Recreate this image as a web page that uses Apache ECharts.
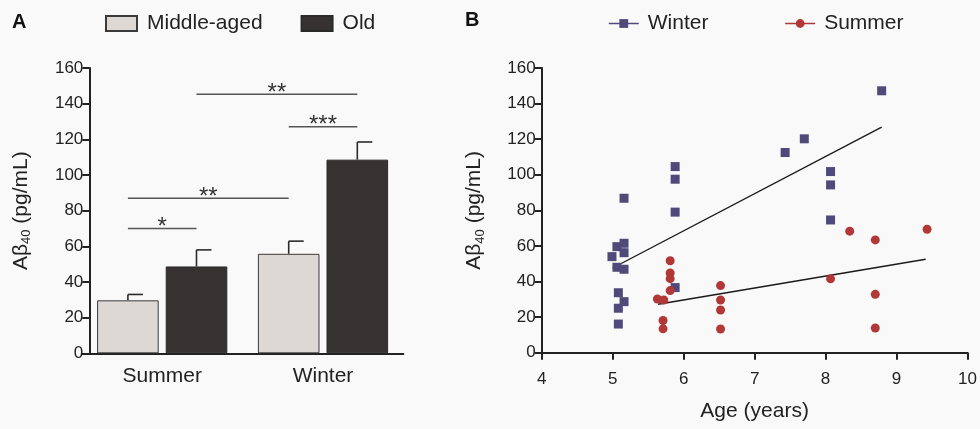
<!DOCTYPE html>
<html>
<head>
<meta charset="utf-8">
<script src="https://cdn.jsdelivr.net/npm/echarts@6/dist/echarts.min.js"></script>
<style>
html,body{margin:0;padding:0;background:#f9f9f9;}
#c{width:980px;height:429px;}
</style>
</head>
<body>
<div id="c"></div>
<script>
// ---------- Panel A data ----------
var seasons = ['Summer', 'Winter'];
var groupNames = ['Middle-aged', 'Old'];
var meanMiddle = [29.7, 55.8];
var meanOld = [48.7, 108.6];
var upperMiddle = [33, 62.9];
var upperOld = [58, 118.5];
var sigLabels = ['*', '**', '***', '**'];
var sigValue = [70, 87, 127, 145.3];
// [category index, group index] of each bracket end
var sigFrom = [[0, 0], [0, 0], [1, 0], [0, 1]];
var sigTo = [[0, 1], [1, 0], [1, 1], [1, 1]];
var yTicksA = [0, 20, 40, 60, 80, 100, 120, 140, 160];

// ---------- Panel B data ----------
var winterAge = [5.16, 5.16, 5.06, 5.16, 4.99, 5.06, 5.16, 5.08, 5.16, 5.08, 5.08, 5.88, 5.88, 5.88, 5.88, 7.43, 7.70, 8.07, 8.07, 8.07, 8.79];
var winterAb = [86.8, 61.5, 59.6, 56.2, 54, 48, 46.9, 33.7, 28.7, 25, 16.1, 104.6, 97.5, 79, 36.6, 112.5, 120.2, 101.8, 94.3, 74.6, 147.2];
var summerAge = [5.81, 5.81, 5.81, 5.81, 5.63, 5.72, 5.71, 5.71, 6.52, 6.52, 6.52, 6.52, 8.07, 8.34, 8.70, 8.70, 8.70, 9.43];
var summerAb = [51.7, 44.8, 41.6, 34.9, 30.2, 29.6, 18.1, 13.4, 37.7, 29.6, 24, 13.3, 41.5, 68.3, 63.4, 32.8, 13.9, 69.4];
var winterFitAge = [5.0, 8.79];
var winterFitAb = [47.6, 126.8];
var summerFitAge = [5.64, 9.41];
var summerFitAb = [27.2, 52.5];
var xTicksB = [4, 5, 6, 7, 8, 9, 10];

function pairs(xs, ys) { return xs.map(function (x, i) { return [x, ys[i]]; }); }

var FONT = 'Liberation Sans, Arial, Helvetica, sans-serif';
var INK = '#222';
var BAR_W = 61.6, BAR_OFF = 34.3, CAP = 15;
var MA_COLOR = '#ddd8d4', OLD_COLOR = '#363232';
var WINTER_COLOR = '#4f4a7a', SUMMER_COLOR = '#b23838';

function errRender(side) {
  return function (params, api) {
    var c = api.value(0);
    var base = api.coord([c, api.value(1)]);
    var top = api.coord([c, api.value(2)]);
    var x = top[0] + side * BAR_OFF;
    return {
      type: 'group',
      children: [
        { type: 'line', shape: { x1: x, y1: base[1], x2: x, y2: top[1] }, style: { stroke: '#2b2b2b', lineWidth: 1.6 } },
        { type: 'line', shape: { x1: x, y1: top[1], x2: x + CAP, y2: top[1] }, style: { stroke: '#2b2b2b', lineWidth: 1.6 } }
      ]
    };
  };
}

function sigRender(params, api) {
  var y = api.value(4);
  var p1 = api.coord([api.value(0), y]);
  var p2 = api.coord([api.value(2), y]);
  var x1 = p1[0] + (api.value(1) === 0 ? -1 : 1) * BAR_OFF;
  var x2 = p2[0] + (api.value(3) === 0 ? -1 : 1) * BAR_OFF;
  return {
    type: 'group',
    children: [
      { type: 'line', shape: { x1: x1, y1: p1[1], x2: x2, y2: p1[1] }, style: { stroke: '#555', lineWidth: 1.5 } },
      { type: 'text', x: (x1 + x2) / 2, y: p1[1] + 11,
        style: { text: sigLabels[params.dataIndex], fill: '#333', font: '24px ' + FONT, align: 'center', verticalAlign: 'bottom' } }
    ]
  };
}

var sigData = sigLabels.map(function (s, i) {
  return [sigFrom[i][0], sigFrom[i][1], sigTo[i][0], sigTo[i][1], sigValue[i]];
});

var yNameRich = {
  a: { fontSize: 21, fontFamily: FONT, color: INK, lineHeight: 24 },
  s: { fontSize: 13, fontFamily: FONT, color: INK, lineHeight: 12, verticalAlign: 'bottom' }
};
var yName = '{a|Aβ}{s|40}{a| (pg/mL)}';

var chart = echarts.init(document.getElementById('c'), null, { renderer: 'canvas' });
chart.setOption({
  animation: false,
  backgroundColor: '#f9f9f9',
  textStyle: { fontFamily: FONT },
  title: [
    { text: 'A', left: 12, top: 12, padding: 0, textStyle: { fontSize: 20, fontWeight: 'bold', color: '#111', fontFamily: FONT } },
    { text: 'B', left: 465, top: 10, padding: 0, textStyle: { fontSize: 20, fontWeight: 'bold', color: '#111', fontFamily: FONT } }
  ],
  legend: [
    {
      data: groupNames, left: 105, top: 13, padding: 0,
      itemWidth: 31, itemHeight: 15, itemGap: 38, icon: 'rect',
      textStyle: { fontSize: 21, color: INK, fontFamily: FONT, padding: [0, 0, 0, 5] }
    },
    {
      data: ['Winter', 'Summer'], left: 608, top: 13, padding: 0,
      itemWidth: 30, itemHeight: 11, itemGap: 76,
      lineStyle: { width: 1.5, opacity: 1 },
      textStyle: { fontSize: 21, color: INK, fontFamily: FONT, padding: [0, 0, 0, 4] }
    }
  ],
  grid: [
    { left: 81.8, width: 321.6, top: 68, height: 285.3 },
    { left: 541.7, width: 430, top: 68, height: 284.7 }
  ],
  xAxis: [
    {
      gridIndex: 0, type: 'category', data: seasons,
      axisLine: { lineStyle: { color: INK, width: 2 } },
      axisTick: { show: false },
      axisLabel: { fontSize: 21, color: INK, margin: 12, fontFamily: FONT }
    },
    {
      gridIndex: 1, type: 'value', min: 4, max: 10, interval: 1,
      name: 'Age (years)', nameLocation: 'middle', nameGap: 48,
      nameTextStyle: { fontSize: 21, color: INK, fontFamily: FONT },
      axisLine: { onZero: false, lineStyle: { color: INK, width: 2 } },
      axisTick: { length: 7, lineStyle: { width: 2, color: INK } },
      splitLine: { show: false },
      axisLabel: { fontSize: 17, color: INK, margin: 18, fontFamily: FONT,
        customValues: xTicksB }
    }
  ],
  yAxis: [
    {
      gridIndex: 0, type: 'value', min: 0, max: 160, interval: 20, offset: -7.5,
      name: yName, nameLocation: 'middle', nameGap: 56,
      nameTextStyle: { rich: yNameRich },
      axisLine: { show: true, lineStyle: { color: INK, width: 2 } },
      axisTick: { show: true, length: 7, lineStyle: { width: 2, color: INK } },
      splitLine: { show: false },
      axisLabel: { fontSize: 17, color: INK, margin: 6, fontFamily: FONT }
    },
    {
      gridIndex: 1, type: 'value', min: 0, max: 160, interval: 20,
      name: yName, nameLocation: 'middle', nameGap: 55,
      nameTextStyle: { rich: yNameRich },
      axisLine: { show: true, onZero: false, lineStyle: { color: INK, width: 2 } },
      axisTick: { show: true, length: 7, lineStyle: { width: 2, color: INK } },
      splitLine: { show: false },
      axisLabel: { fontSize: 17, color: INK, margin: 6, fontFamily: FONT }
    }
  ],
  series: [
    {
      name: 'Middle-aged', type: 'bar', xAxisIndex: 0, yAxisIndex: 0,
      data: meanMiddle, barWidth: BAR_W, barGap: '11.4%',
      itemStyle: { color: MA_COLOR, borderColor: '#3a3a3a', borderWidth: 1 }
    },
    {
      name: 'Old', type: 'bar', xAxisIndex: 0, yAxisIndex: 0,
      data: meanOld, barWidth: BAR_W, barGap: '11.4%',
      itemStyle: { color: OLD_COLOR, borderColor: '#2a2a2a', borderWidth: 1 }
    },
    {
      type: 'custom', xAxisIndex: 0, yAxisIndex: 0, z: 5,
      renderItem: errRender(-1), encode: { x: 0, y: 2 },
      data: seasons.map(function (s, i) { return [i, meanMiddle[i], upperMiddle[i]]; })
    },
    {
      type: 'custom', xAxisIndex: 0, yAxisIndex: 0, z: 5,
      renderItem: errRender(1), encode: { x: 0, y: 2 },
      data: seasons.map(function (s, i) { return [i, meanOld[i], upperOld[i]]; })
    },
    {
      type: 'custom', xAxisIndex: 0, yAxisIndex: 0, z: 5,
      renderItem: sigRender, encode: { x: 0, y: 4 },
      data: sigData
    },
    {
      name: 'Winter', type: 'line', xAxisIndex: 1, yAxisIndex: 1,
      data: pairs(winterAge, winterAb), symbol: 'rect', symbolSize: 9, showSymbol: true,
      itemStyle: { color: WINTER_COLOR }, lineStyle: { color: WINTER_COLOR, opacity: 0 }, z: 4
    },
    {
      name: 'Summer', type: 'line', xAxisIndex: 1, yAxisIndex: 1,
      data: pairs(summerAge, summerAb), symbol: 'circle', symbolSize: 9, showSymbol: true,
      itemStyle: { color: SUMMER_COLOR }, lineStyle: { color: SUMMER_COLOR, opacity: 0 }, z: 4
    },
    {
      type: 'line', xAxisIndex: 1, yAxisIndex: 1, data: pairs(winterFitAge, winterFitAb),
      symbol: 'none', lineStyle: { color: '#1a1a1a', width: 1.4 }, z: 3
    },
    {
      type: 'line', xAxisIndex: 1, yAxisIndex: 1, data: pairs(summerFitAge, summerFitAb),
      symbol: 'none', lineStyle: { color: '#1a1a1a', width: 1.4 }, z: 3
    }
  ]
});
</script>
</body>
</html>
